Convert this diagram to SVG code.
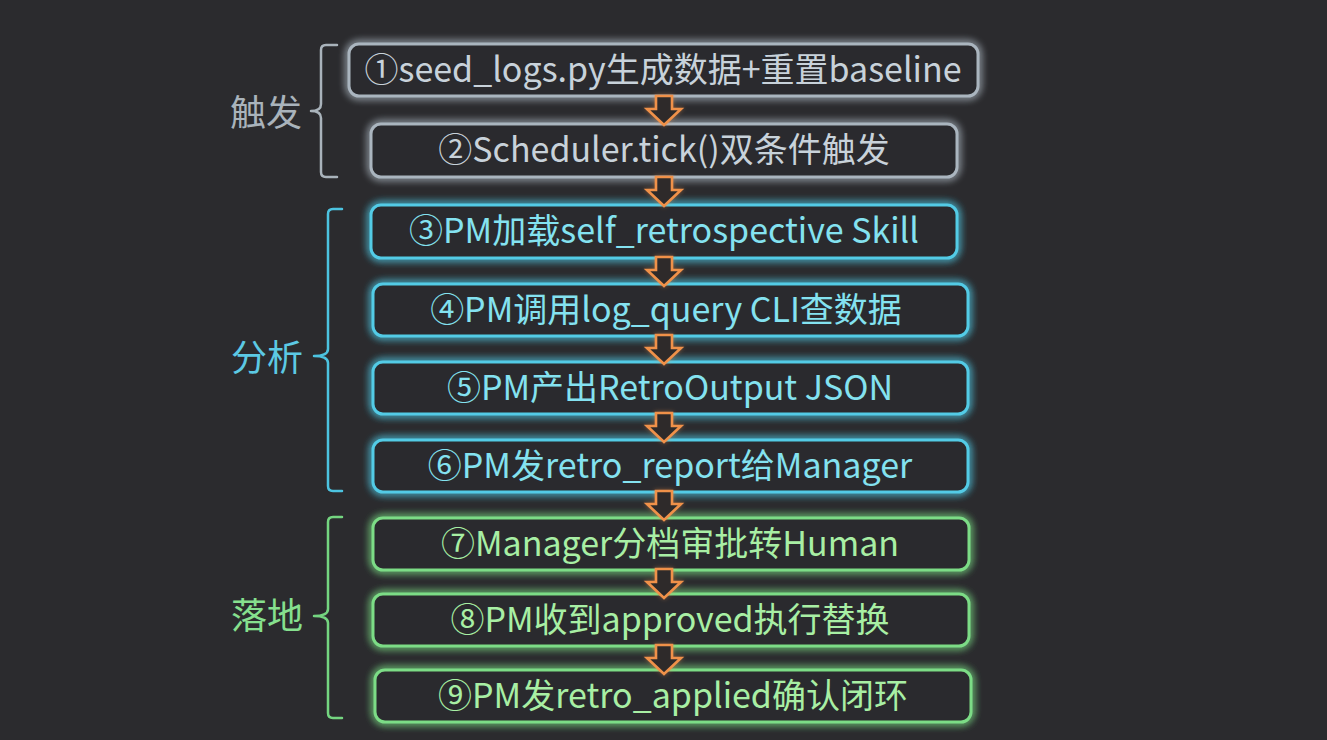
<svg xmlns="http://www.w3.org/2000/svg" width="1327" height="740" viewBox="0 0 1327 740">
<defs>
<filter id="glow" x="-10%" y="-40%" width="120%" height="180%">
<feGaussianBlur in="SourceGraphic" stdDeviation="4" result="b"/>
<feMerge><feMergeNode in="b"/><feMergeNode in="b"/><feMergeNode in="SourceGraphic"/></feMerge>
</filter>
<filter id="glowS" x="-50%" y="-50%" width="200%" height="200%">
<feGaussianBlur in="SourceAlpha" stdDeviation="2" result="a"/>
<feFlood flood-color="#f0914a" flood-opacity="0.45"/>
<feComposite in2="a" operator="in" result="g"/>
<feMerge><feMergeNode in="g"/><feMergeNode in="SourceGraphic"/></feMerge>
</filter>
<path id="arr" d="M-8,0 H8 V13 H17 L0,29 L-17,13 H-8 Z"/>
<style>
.box{fill:#2a2a2d;stroke-width:3;}
.t{font-family:"Noto Sans CJK SC","Noto Sans",sans-serif;font-size:34px;text-anchor:middle;}
.lbl{font-family:"Noto Sans CJK SC","Noto Sans",sans-serif;font-size:36px;text-anchor:middle;}
.gray .box{stroke:#aab5bf;} .gray text{fill:#c8d2da;}
.cyan .box{stroke:#52cbe6;} .cyan text{fill:#84e2f0;}
.green .box{stroke:#7cdc86;} .green text{fill:#a8efa4;}
.br{fill:none;stroke-width:2.5;stroke-linecap:round;stroke-linejoin:round;}
.arrow{fill:#2f2c2b;stroke:#f0914a;stroke-width:2.6;stroke-linejoin:miter;}
</style>
</defs>
<rect width="1327" height="740" fill="#2b2b2e"/>

<g id="groups">
<g id="group-trigger" class="gray">
<path class="br" stroke="#a9b3bb" d="M337,45 H326 Q321,45 321,50 V104 Q321,111 311,111 Q321,111 321,118 V172 Q321,177 326,177 H337"/>
<text class="lbl" x="266" y="126" style="fill:#a9b3bb">触发</text>
</g>
<g id="group-analyze" class="cyan">
<path class="br" stroke="#4cc3e0" d="M342,209 H333 Q328,209 328,214 V349 Q328,356 314,356 Q328,356 328,363 V486 Q328,491 333,491 H342"/>
<text class="lbl" x="267" y="371" style="fill:#5cc9e4">分析</text>
</g>
<g id="group-land" class="green">
<path class="br" stroke="#74d580" d="M342,517 H333 Q328,517 328,522 V609 Q328,616 314,616 Q328,616 328,623 V713 Q328,718 333,718 H342"/>
<text class="lbl" x="267" y="629" style="fill:#86e08e">落地</text>
</g>
</g>

<g id="node1" class="gray"><rect class="box" filter="url(#glow)" x="349" y="44" width="629" height="52" rx="10"/><text class="t" x="663" y="82">①seed_logs.py生成数据+重置baseline</text></g>
<g id="node2" class="gray"><rect class="box" filter="url(#glow)" x="371" y="124" width="586" height="53" rx="10"/><text class="t" x="664" y="162">②Scheduler.tick()双条件触发</text></g>
<g id="node3" class="cyan"><rect class="box" filter="url(#glow)" x="371" y="205" width="586" height="53" rx="10"/><text class="t" x="664" y="243">③PM加载self_retrospective Skill</text></g>
<g id="node4" class="cyan"><rect class="box" filter="url(#glow)" x="373" y="284" width="595" height="52" rx="10"/><text class="t" x="666" y="322">④PM调用log_query CLI查数据</text></g>
<g id="node5" class="cyan"><rect class="box" filter="url(#glow)" x="373" y="362" width="595" height="52" rx="10"/><text class="t" x="670" y="400">⑤PM产出RetroOutput JSON</text></g>
<g id="node6" class="cyan"><rect class="box" filter="url(#glow)" x="373" y="440" width="595" height="52" rx="10"/><text class="t" x="670" y="478">⑥PM发retro_report给Manager</text></g>
<g id="node7" class="green"><rect class="box" filter="url(#glow)" x="373" y="518" width="596" height="52" rx="10"/><text class="t" x="670" y="556">⑦Manager分档审批转Human</text></g>
<g id="node8" class="green"><rect class="box" filter="url(#glow)" x="373" y="594" width="596" height="52" rx="10"/><text class="t" x="670" y="632">⑧PM收到approved执行替换</text></g>
<g id="node9" class="green"><rect class="box" filter="url(#glow)" x="375" y="670" width="596" height="52" rx="10"/><text class="t" x="673" y="708">⑨PM发retro_applied确认闭环</text></g>

<g id="connectors" filter="url(#glowS)">
<use href="#arr" class="arrow" x="664" y="96"/>
<use href="#arr" class="arrow" x="664" y="177"/>
<use href="#arr" class="arrow" x="664" y="257"/>
<use href="#arr" class="arrow" x="664" y="335"/>
<use href="#arr" class="arrow" x="664" y="413"/>
<use href="#arr" class="arrow" x="664" y="491"/>
<use href="#arr" class="arrow" x="664" y="569"/>
<use href="#arr" class="arrow" x="664" y="645"/>
</g>
</svg>
